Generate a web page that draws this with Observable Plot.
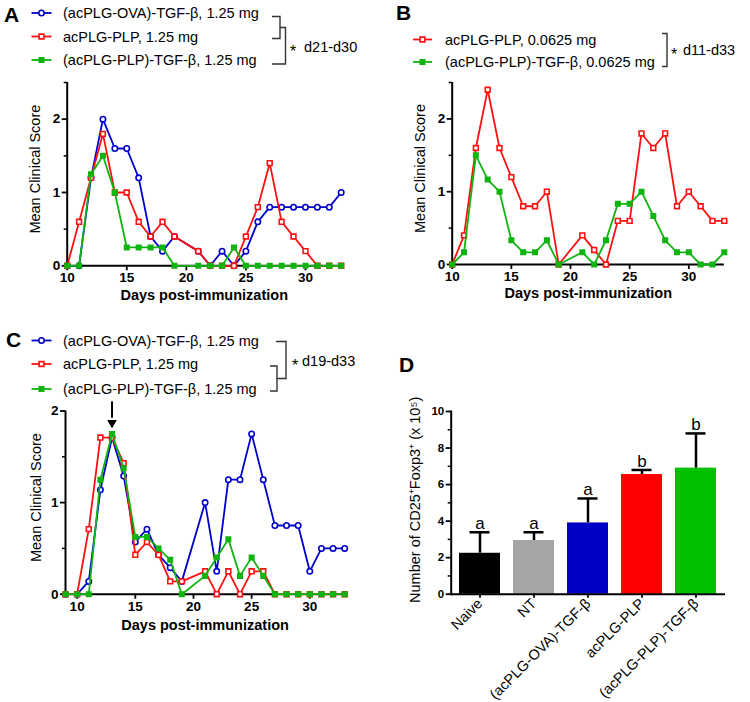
<!DOCTYPE html>
<html><head><meta charset="utf-8">
<script src="https://cdn.jsdelivr.net/npm/d3@7"></script>
<script src="https://cdn.jsdelivr.net/npm/@observablehq/plot@0.6"></script>
<style>
body{margin:0;background:#fff;}
#fig{position:relative;width:750px;height:702px;font-family:"Liberation Sans",Arial,sans-serif;overflow:hidden;}
.panel{position:absolute;}
#overlay{position:absolute;left:0;top:0;pointer-events:none;}
</style></head><body><div id="fig"></div>
<script>
const FONT = '"Liberation Sans", Arial, Helvetica, sans-serif';
const BLUE = "#0000cc", RED = "#ff1010", GREEN = "#10b410";

// ---------- data ----------
const daysAB = [10,11,12,13,14,15,16,17,18,19,21,22,23,24,25,26,27,28,29,30,31,32,33];
const aOVA    = [0,0,1.2,2.0,1.6,1.6,1.2,0.4,0.2,0.4,0.2,0,0.2,0,0.2,0.6,0.8,0.8,0.8,0.8,0.8,0.8,1.0];
const aPLP    = [0,0.6,1.2,1.8,1.0,1.0,0.6,0.4,0.6,0.4,0.2,0,0,0,0.4,0.8,1.4,0.6,0.4,0.2,0,0,0];
const aPLPTGF = [0,0,1.25,1.5,1.0,0.25,0.25,0.25,0.25,0,0,0,0,0.25,0,0,0,0,0,0,0,0,0];

const bPLP    = [0,0.4,1.6,2.4,1.6,1.2,0.8,0.8,1.0,0,0.4,0.2,0,0.6,0.6,1.8,1.6,1.8,0.8,1.0,0.8,0.6,0.6];
const bPLPTGF = [0,0.167,1.5,1.167,1.0,0.333,0.167,0.167,0.333,0,0.167,0,0.333,0.833,0.833,1.0,0.667,0.333,0.167,0.167,0,0,0.167];

const daysC   = [9,10,11,12,13,14,15,16,17,18,19,21,22,23,24,25,26,27,28,29,30,31,32,33];
const cOVA    = [0,0,0.14,1.14,1.71,1.29,0.57,0.71,0.43,0.29,0.14,1.0,0.25,1.25,1.25,1.75,1.25,0.75,0.75,0.75,0.25,0.5,0.5,0.5];
const cPLP    = [0,0,0.71,1.71,1.71,1.43,0.43,0.57,0.43,0.14,0.14,0.25,0,0.25,0,0.25,0.25,0,0,0,0,0,0,0];
const cPLPTGF = [0,0,0,1.25,1.75,1.375,0.625,0.625,0.5,0.375,0,0.2,0.4,0.6,0.2,0.4,0.2,0,0,0,0,0,0,0];
const arrowC  = [{day:13, from:2.1, to:1.87}];

const groupsD  = ["Naive","NT","(acPLG-OVA)-TGF-β","acPLG-PLP","(acPLG-PLP)-TGF-β"];
const meansD   = [2.24,2.94,3.9,6.55,6.9];
const errD     = [1.15,0.45,1.34,0.25,1.9];
const lettersD = ["a","a","a","b","b"];
const colorsD  = ["#000000","#a5a5a8","#0000c4","#ff0000","#00c000"];

const legendA = ["(acPLG-OVA)-TGF-β, 1.25 mg","acPLG-PLP, 1.25 mg","(acPLG-PLP)-TGF-β, 1.25 mg"];
const legendB = ["acPLG-PLP, 0.0625 mg","(acPLG-PLP)-TGF-β, 0.0625 mg"];
const legendC = ["(acPLG-OVA)-TGF-β, 1.25 mg","acPLG-PLP, 1.25 mg","(acPLG-PLP)-TGF-β, 1.25 mg"];
const statA = "d21-d30", statB = "d11-d33", statC = "d19-d33";

// ---------- styles ----------
const STY = {
  ova:    {color: BLUE,  symbol: "circle", r: 2.7, fill: "white"},
  plp:    {color: RED,   symbol: "square", r: 2.7, fill: "white"},
  plptgf: {color: GREEN, symbol: "square", r: 2.5, fill: GREEN}
};
const rows = (days, vals) => days.map((d, i) => ({day: d, score: vals[i]}));

const fig = document.getElementById("fig");
function place(node, left, top) {
  const div = document.createElement("div");
  div.className = "panel";
  div.style.left = left + "px"; div.style.top = top + "px";
  div.appendChild(node);
  fig.appendChild(div);
}

function linePanel(cfg) {
  const marks = [
    Plot.ruleY([0], {stroke: "#000", strokeWidth: 2}),
    Plot.ruleX([cfg.xdomain[0]], {y1: 0, y2: cfg.ydomain[1], stroke: "#000", strokeWidth: 2}),
    Plot.axisY({ticks: cfg.yMajor, tickSize: 5, tickPadding: 2, fontWeight: "bold", fontSize: 13.5, strokeWidth: 1.8, label: null, tickFormat: d => String(d)}),
    Plot.axisY({ticks: cfg.yMinor, tickSize: 3, strokeWidth: 1.5, label: null, tickFormat: () => ""}),
    Plot.axisX({ticks: [10,15,20,25,30], tickSize: 5, tickPadding: 2, fontWeight: "bold", fontSize: 13.5, strokeWidth: 1.8, label: null, tickFormat: d => String(d)}),
    Plot.text(["Mean Clinical Score"], {text: d => d, frameAnchor: "left", textAnchor: "middle", rotate: -90, dx: cfg.yTitleDx, dy: -5, fontSize: 14.5}),
    Plot.text(["Days post-immunization"], {text: d => d, frameAnchor: "bottom", textAnchor: "middle", dy: cfg.xTitleDy, fontWeight: "bold", fontSize: 14.5})
  ];
  for (const s of cfg.series) {
    const st = STY[s.key];
    const data = rows(cfg.days, s.values);
    marks.push(Plot.line(data, {x: "day", y: "score", stroke: st.color, strokeWidth: 1.8}));
    marks.push(Plot.dot(data, {x: "day", y: "score", symbol: st.symbol, r: st.r, stroke: st.color, fill: st.fill, strokeWidth: 1.6}));
  }
  if (cfg.extra) marks.push(...cfg.extra);
  const p = Plot.plot({
    width: cfg.width, height: cfg.height,
    marginLeft: cfg.ml, marginRight: cfg.mr, marginTop: cfg.mt, marginBottom: cfg.mb,
    x: {domain: cfg.xdomain},
    y: {domain: cfg.ydomain},
    style: {fontFamily: FONT, background: "transparent", overflow: "visible", color: "#000"},
    marks
  });
  place(p, cfg.left, cfg.top);
}

linePanel({
  left: 0, top: 70, width: 360, height: 240, ml: 66.7, mr: 19.3, mt: 12, mb: 44.7,
  xdomain: [10, 33], ydomain: [0, 2.5], yMajor: [0,1,2], yMinor: [0.5,1.5,2.5],
  yTitleDx: -31.5, xTitleDy: 34, days: daysAB,
  series: [{key: "ova", values: aOVA}, {key: "plp", values: aPLP}, {key: "plptgf", values: aPLPTGF}]
});
linePanel({
  left: 390, top: 70, width: 360, height: 240, ml: 61.7, mr: 26.2, mt: 12, mb: 46,
  xdomain: [10, 33], ydomain: [0, 2.5], yMajor: [0,1,2], yMinor: [0.5,1.5,2.5],
  yTitleDx: -31.5, xTitleDy: 33, days: daysAB,
  series: [{key: "plp", values: bPLP}, {key: "plptgf", values: bPLPTGF}]
});
linePanel({
  left: 0, top: 400, width: 360, height: 250, ml: 65, mr: 15.8, mt: 10.5, mb: 56.3,
  xdomain: [9, 33], ydomain: [0, 2], yMajor: [0,1,2], yMinor: [0.5,1.5],
  yTitleDx: -29, xTitleDy: 36, days: daysC,
  series: [{key: "ova", values: cOVA}, {key: "plp", values: cPLP}, {key: "plptgf", values: cPLPTGF}],
  extra: [
    Plot.ruleX(arrowC, {x: "day", y1: "from", y2: d => d.to + 0.05, stroke: "#000", strokeWidth: 2}),
    Plot.dot(arrowC, {x: "day", y: "to", symbol: "triangle", rotate: 180, r: 3.6, fill: "#000", stroke: "none"})
  ]
});

// ---------- panel D ----------
const rowsD = groupsD.map((g, i) => ({group: g, mean: meansD[i], err: errD[i], letter: lettersD[i], color: colorsD[i]}));
const pD = Plot.plot({
  width: 360, height: 322, marginLeft: 60.7, marginRight: 25, marginTop: 31, marginBottom: 108.3,
  x: {domain: groupsD, paddingInner: 0.24, paddingOuter: 0.12},
  y: {domain: [0, 10]},
  color: {type: "identity"},
  style: {fontFamily: FONT, background: "transparent", overflow: "visible", color: "#000"},
  marks: [
    Plot.barY(rowsD, {x: "group", y: "mean", fill: "color"}),
    Plot.ruleX(rowsD, {x: "group", y1: "mean", y2: d => d.mean + d.err, stroke: "#000", strokeWidth: 2.5}),
    Plot.tickY(rowsD, {x: "group", y: d => d.mean + d.err, stroke: "#000", strokeWidth: 2.5, insetLeft: 10.5, insetRight: 10.5}),
    Plot.text(rowsD, {x: "group", y: d => d.mean + d.err, text: "letter", lineAnchor: "bottom", dy: -3, fontSize: 17}),
    Plot.ruleY([0], {stroke: "#000", strokeWidth: 2}),
    Plot.frame({anchor: "left", stroke: "#000", strokeWidth: 2}),
    Plot.axisY({ticks: [0,2,4,6,8,10], tickSize: 5, tickPadding: 2, fontWeight: "bold", fontSize: 11.5, strokeWidth: 1.8, label: null, tickFormat: d => String(d)}),
    Plot.axisY({ticks: [1,3,5,7,9], tickSize: 3, strokeWidth: 1.5, label: null, tickFormat: () => ""}),
    Plot.axisX({tickRotate: -45, tickSize: 4, tickPadding: 3, fontSize: 14.5, strokeWidth: 1.8, label: null}),
    Plot.text(["Number of CD25⁺Foxp3⁺ (x 10⁵)"], {text: d => d, frameAnchor: "left", textAnchor: "middle", rotate: -90, dx: -36, dy: -3, fontSize: 14.5})
  ]
});
place(pD, 390, 380);

// ---------- overlay: panel letters, legends, brackets ----------
const svg = d3.select(fig).append("svg").attr("id", "overlay")
  .attr("width", 750).attr("height", 702)
  .style("font-family", FONT);

const letters = [{t: "A", x: 4, y: 22}, {t: "B", x: 396, y: 20}, {t: "C", x: 6, y: 347}, {t: "D", x: 399, y: 372}];
svg.selectAll("text.pl").data(letters).join("text")
  .attr("x", d => d.x).attr("y", d => d.y).text(d => d.t)
  .attr("font-size", 21).attr("font-weight", "bold").attr("fill", "#000");

function legend(items, keys, x0, x1, tx, ys) {
  items.forEach((label, i) => {
    const st = STY[keys[i]], y = ys[i], xm = (x0 + x1) / 2;
    svg.append("line").attr("x1", x0).attr("x2", x1).attr("y1", y).attr("y2", y)
      .attr("stroke", st.color).attr("stroke-width", 1.8);
    const sym = d3.symbol().type(st.symbol === "circle" ? d3.symbolCircle : d3.symbolSquare).size(Math.PI * st.r * st.r);
    svg.append("path").attr("d", sym()).attr("transform", `translate(${xm},${y})`)
      .attr("fill", st.fill).attr("stroke", st.color).attr("stroke-width", 1.6);
    svg.append("text").attr("x", tx).attr("y", y).attr("dy", "0.35em").text(label)
      .attr("font-size", 14.5).attr("fill", "#000");
  });
}
legend(legendA, ["ova","plp","plptgf"], 31.5, 51.5, 63, [13, 36.5, 60]);
legend(legendB, ["plp","plptgf"], 413, 432, 445, [39.5, 62]);
legend(legendC, ["ova","plp","plptgf"], 31.5, 51.5, 63, [340.5, 364, 389]);

function bracket(d) {
  svg.append("path").attr("d", d).attr("fill", "none").attr("stroke", "#333").attr("stroke-width", 1.4);
}
bracket("M272,16.5 H280 V38.5 H272");
bracket("M280,27.5 H285.5 V64 H272");
bracket("M662,33.5 H667 V66.5 H662");
bracket("M276,341.5 H286 V378.5 H277");
bracket("M270,366 H277 V391 H270");

function stat(xs, xl, y, label) {
  svg.append("text").attr("x", xs).attr("y", y).attr("dy", "0.6em").text("*").attr("font-size", 16).attr("fill", "#000");
  svg.append("text").attr("x", xl).attr("y", y).attr("dy", "0.35em").text(label).attr("font-size", 14.5).attr("fill", "#000");
}
stat(290, 304, 47, statA);
stat(671, 683, 50, statB);
stat(292, 302, 361, statC);
</script></body></html>
